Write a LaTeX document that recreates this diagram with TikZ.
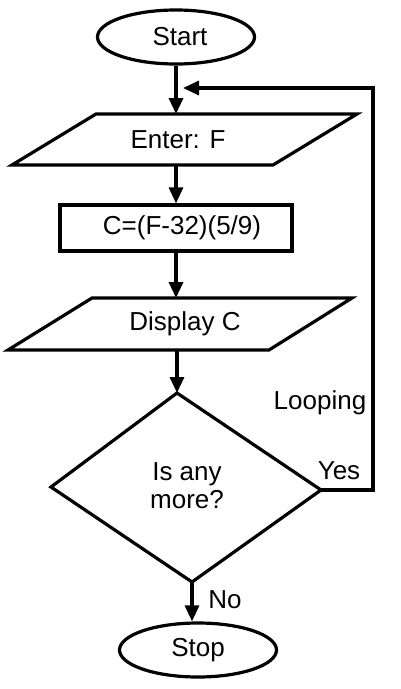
\documentclass[tikz,border=0pt]{standalone}
\usepackage{fontspec}
\setmainfont{Liberation Sans}
\usetikzlibrary{shapes.geometric,arrows.meta}
\begin{document}
\begin{tikzpicture}[x=1pt,y=-1pt,
  every node/.style={font=\fontsize{26}{28}\selectfont},
  line/.style={line width=3.2pt,line join=miter},
  term/.style={ellipse,draw,line width=3.2pt,minimum width=157pt,minimum height=54pt,inner sep=0pt},
  procbox/.style={rectangle,draw,line width=3.2pt,minimum width=232pt,minimum height=46pt,inner sep=0pt},
  flow/.style={line width=3.2pt,line join=miter,-{Triangle[length=16pt,width=14pt]}},
  lbl/.style={inner sep=0pt}]
\useasboundingbox (0,0) rectangle (400,689);

% Start
\node[term] (start) at (176,37) {\hspace*{8pt}Start};

% Enter: F (parallelogram)
\coordinate (eBL) at (12,165);
\coordinate (eTL) at (96,114);
\coordinate (eTR) at (357,114);
\coordinate (eBR) at (273,165);
\draw[line] (eBL) -- (eTL) -- (eTR) -- (eBR) -- cycle;
\node[lbl] (enter) at (178,140) {Enter: F};
\coordinate (enterT) at (176,114);
\coordinate (enterB) at (176,165);

% Calculation
\node[procbox] (calc) at (176,228) {\hspace*{12pt}C=(F-32)(5/9)};

% Display C (parallelogram)
\coordinate (dBL) at (8,350);
\coordinate (dTL) at (92,298);
\coordinate (dTR) at (352,298);
\coordinate (dBR) at (269,350);
\draw[line] (dBL) -- (dTL) -- (dTR) -- (dBR) -- cycle;
\node[lbl] (disp) at (185,324) {Display C};
\coordinate (dispT) at (176,298);
\coordinate (dispB) at (177,350);

% Decision diamond
\coordinate (qT) at (177,393);
\coordinate (qR) at (321,490);
\coordinate (qB) at (192,582);
\coordinate (qL) at (51,487);
\draw[line] (qT) -- (qR) -- (qB) -- (qL) -- cycle;
\node[lbl,align=center] (q) at (187,486) {Is any\\more?};

% Stop
\node[term] (stop) at (198,650) {Stop};

% Connectors
\draw[flow] (start.south) -- (enterT);
\draw[flow] (enterB) -- (calc.north);
\draw[flow] (calc.south) -- (dispT);
\draw[flow] (dispB) -- (qT);
\coordinate (lc) at (373,88);
\coordinate (lend) at (183,88);
\draw[flow] (qR) -| (lc) -- (lend);
\draw[flow] (qB) -- (qB |- stop.north);

% Labels
\node[lbl] (looping) at (320,403) {Looping};
\node[lbl] (yes) at (339,471) {Yes};
\node[lbl] (no) at (225,600) {No};
\end{tikzpicture}
\end{document}
